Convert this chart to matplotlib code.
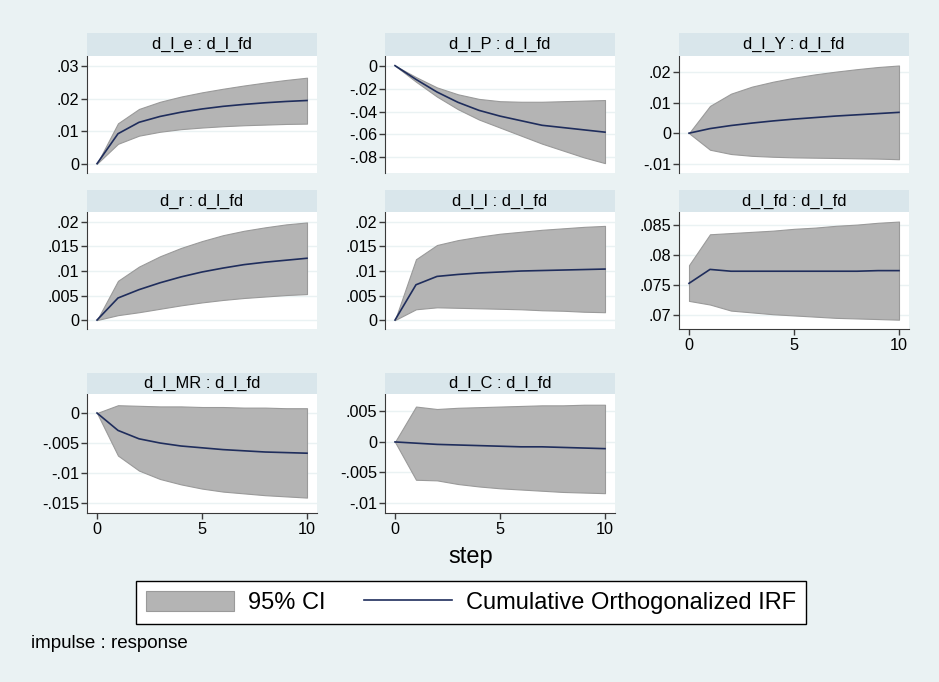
import numpy as np
from matplotlib import pyplot
from matplotlib.patches import Patch
from matplotlib.lines import Line2D


#(0) Values:
steps   = [0, 1, 2, 3, 4, 5, 6, 7, 8, 9, 10]
titles  = ['d_l_e : d_l_fd', 'd_l_P : d_l_fd', 'd_l_Y : d_l_fd',
           'd_r : d_l_fd', 'd_l_I : d_l_fd', 'd_l_fd : d_l_fd',
           'd_l_MR : d_l_fd', 'd_l_C : d_l_fd']

irf_e   = [0, .0092, .0127, .0145, .0158, .0168, .0176, .0182, .0187, .0191, .0194]
hi_e    = [0, .0124, .0168, .0190, .0206, .0219, .0230, .0240, .0249, .0257, .0264]
lo_e    = [0, .0061, .0086, .0098, .0106, .0111, .0115, .0118, .0120, .0122, .0123]

irf_P   = [0, -.012, -.023, -.032, -.039, -.044, -.048, -.052, -.054, -.056, -.058]
hi_P    = [0, -.010, -.019, -.025, -.029, -.031, -.0315, -.0315, -.031, -.0305, -.030]
lo_P    = [0, -.014, -.027, -.038, -.047, -.054, -.061, -.068, -.074, -.080, -.085]

irf_Y   = [0, .0015, .0025, .0033, .0040, .0046, .0051, .0056, .0060, .0064, .0068]
hi_Y    = [0, .0089, .0129, .0152, .0168, .0181, .0192, .0201, .0209, .0216, .0221]
lo_Y    = [0, -.0054, -.0068, -.0074, -.0077, -.0079, -.0080, -.0081, -.0082, -.0083, -.0085]

irf_r   = [0, .0045, .0062, .0076, .0088, .0098, .0106, .0113, .0118, .0122, .0126]
hi_r    = [0, .0080, .0109, .0130, .0147, .0161, .0173, .0182, .0189, .0195, .0199]
lo_r    = [0, .0010, .0016, .0023, .0030, .0036, .0041, .0045, .0048, .0051, .0053]

irf_I   = [0, .0072, .0089, .0093, .0096, .0098, .0100, .0101, .0102, .0103, .0104]
hi_I    = [0, .0124, .0153, .0163, .0170, .0176, .0180, .0184, .0187, .0190, .0192]
lo_I    = [0, .0022, .0026, .0025, .0024, .0023, .0022, .0020, .0019, .0017, .0016]

irf_fd  = [.0753, .0776, .0773, .0773, .0773, .0773, .0773, .0773, .0773, .0774, .0774]
hi_fd   = [.0783, .0834, .0836, .0838, .0840, .0843, .0845, .0848, .0850, .0853, .0855]
lo_fd   = [.0724, .0718, .0708, .0705, .0702, .0700, .0698, .0696, .0695, .0694, .0693]

irf_MR  = [0, -.0029, -.0043, -.0050, -.0055, -.0058, -.0061, -.0063, -.0065, -.0066, -.0067]
hi_MR   = [0, .0013, .0012, .0011, .0011, .0010, .0010, .0009, .0009, .0008, .0008]
lo_MR   = [0, -.0071, -.0096, -.0110, -.0119, -.0126, -.0131, -.0134, -.0137, -.0139, -.0141]

irf_C   = [0, -.0002, -.0004, -.0005, -.0006, -.0007, -.0008, -.0008, -.0009, -.0010, -.0011]
hi_C    = [0, .0058, .0054, .0056, .0057, .0058, .0059, .0060, .0060, .0061, .0061]
lo_C    = [0, -.0062, -.0063, -.0069, -.0073, -.0076, -.0078, -.0080, -.0082, -.0083, -.0084]

IRF     = [irf_e, irf_P, irf_Y, irf_r, irf_I, irf_fd, irf_MR, irf_C]
HI      = [hi_e, hi_P, hi_Y, hi_r, hi_I, hi_fd, hi_MR, hi_C]
LO      = [lo_e, lo_P, lo_Y, lo_r, lo_I, lo_fd, lo_MR, lo_C]

yticks  = [[0, .01, .02, .03],
           [-.08, -.06, -.04, -.02, 0],
           [-.01, 0, .01, .02],
           [0, .005, .01, .015, .02],
           [0, .005, .01, .015, .02],
           [.07, .075, .08, .085],
           [-.015, -.01, -.005, 0],
           [-.01, -.005, 0, .005]]
ylims   = [(-.00286, .03306), (-.0936, .0084), (-.0130, .0252),
           (-.00182, .02203), (-.00182, .02203), (.06776, .08708),
           (-.01667, .00317), (-.01165, .00786)]
xticks  = [0, 5, 10]


#(1) Styles / layout (pixels):
BG      = '#EAF2F3'
HEAD    = '#D9E6EB'
GRID    = '#EAF2F3'
FILL    = '#B4B4B4'
EDGE    = '#9A9A9A'
NAVY    = '#1F2D5C'
AXC     = '#3A3A3A'
W, H    = 939, 682
COLX    = [87, 385, 679]
AXW     = 230
ROWY    = [(33, 56, 173), (190, 212, 329), (373, 394, 513)]

pyplot.rcParams['font.family'] = ['Liberation Sans', 'DejaVu Sans']


def stata_fmt(v):
	s = '%g' % round(v, 6)
	if s.startswith('0.'):
		s = s[1:]
	elif s.startswith('-0.'):
		s = '-' + s[2:]
	return s


#(2) Plot
pyplot.close('all')
fig = pyplot.figure(figsize=(W/100., H/100.), dpi=100, facecolor=BG)

for i in range(8):
	r, c = divmod(i, 3)
	x0 = COLX[c]
	ht, pt, pb = ROWY[r]
	ax = fig.add_axes([x0/W, 1-pb/H, AXW/W, (pb-pt)/H])
	hx = fig.add_axes([x0/W, 1-pt/H, AXW/W, (pt-ht)/H])

	### header strip
	hx.set_facecolor(HEAD)
	hx.set_xticks([]); hx.set_yticks([])
	[sp.set_visible(False) for sp in hx.spines.values()]
	hx.text(0.5, 0.5, titles[i], ha='center', va='center', fontsize=11.9, transform=hx.transAxes)

	### data
	ax.set_facecolor('white')
	ax.fill_between(steps, LO[i], HI[i], facecolor=FILL, edgecolor=EDGE, lw=0.8, zorder=2)
	ax.plot(steps, IRF[i], color=NAVY, lw=1.2, zorder=3)
	ax.set_xlim(-0.476, 10.476)
	ax.set_ylim(*ylims[i])
	ax.set_yticks(yticks[i])
	ax.set_yticklabels([stata_fmt(v) for v in yticks[i]])
	ax.yaxis.grid(True, color=GRID, lw=1.0, zorder=1)
	ax.set_axisbelow(True)
	ax.spines['top'].set_visible(False)
	ax.spines['right'].set_visible(False)
	ax.spines['left'].set_color(AXC)
	ax.tick_params(axis='y', direction='out', length=4, width=1, color=AXC, pad=1.5, labelsize=11.7)
	if i in (5, 6, 7):
		ax.spines['bottom'].set_color(AXC)
		ax.set_xticks(xticks)
		ax.set_xticklabels([str(v) for v in xticks])
		ax.tick_params(axis='x', direction='out', length=4, width=1, color=AXC, pad=2.5, labelsize=11.7)
	else:
		ax.spines['bottom'].set_visible(False)
		ax.set_xticks([])

fig.text(471/W, 1-557/H, 'step', ha='center', va='center', fontsize=17)

h0 = Patch(facecolor=FILL, edgecolor=EDGE, lw=0.8)
h1 = Line2D([0], [0], color=NAVY, lw=1.2)
leg = fig.legend([h0, h1], ['95% CI', 'Cumulative Orthogonalized IRF'], loc='center',
                 bbox_to_anchor=(471/W, 1-602.5/H), ncol=2, fontsize=17, frameon=True,
                 fancybox=False, edgecolor='black', framealpha=1, handlelength=3.75,
                 handleheight=0.95, handletextpad=0.6, columnspacing=1.6, borderpad=0.4)
leg.get_frame().set_linewidth(1.0)

fig.text(31/W, 1-643/H, 'impulse : response', ha='left', va='center', fontsize=13.5)

pyplot.savefig('out.png', dpi=100, facecolor=BG)
